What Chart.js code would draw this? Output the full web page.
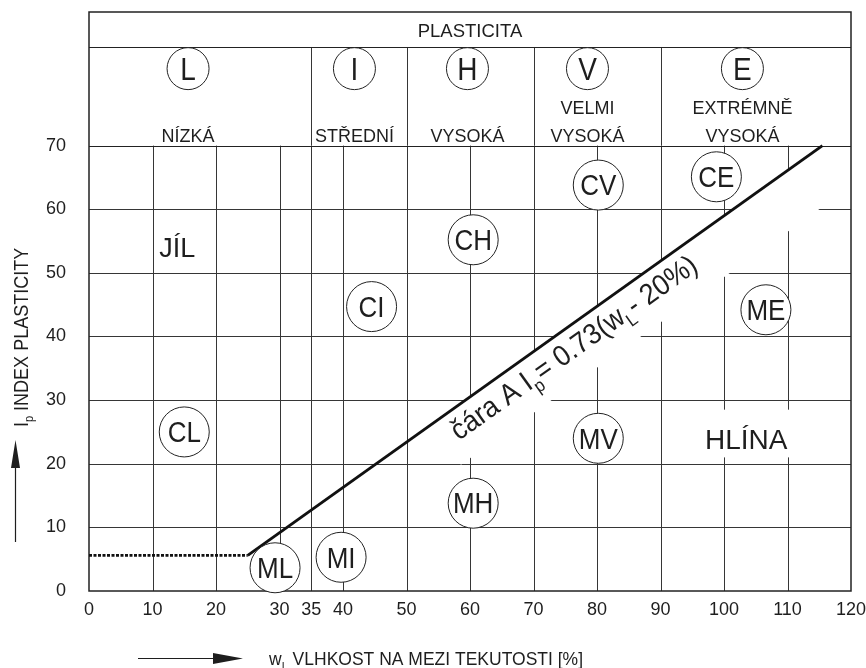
<!DOCTYPE html>
<html>
<head>
<meta charset="utf-8">
<script src="https://cdn.jsdelivr.net/npm/chart.js@4/dist/chart.umd.min.js"></script>
<style>html,body{margin:0;padding:0;background:#fff}canvas{display:block}</style>
</head>
<body>
<canvas id="c" width="866" height="668"></canvas>
<script>
// ---- data ----
const xTicks = [0, 10, 20, 30, 35, 40, 50, 60, 70, 80, 90, 100, 110, 120];
const yTicks = [0, 10, 20, 30, 40, 50, 60, 70];
const gridX = [10, 20, 30, 35, 40, 50, 60, 70, 80, 90, 100, 110];
const gridY = [10, 20, 30, 40, 50, 60];
const zoneBounds = [35, 50, 70, 90];
const yMax = 91;
const headerLineY = 85.5;

const aLineX = [25, 115.5];
const aLineY = [5.6, 70];
const limitX = [0, 25];
const limitY = [5.6, 5.6];

const soilCodes = ['CL', 'ML', 'MI', 'CI', 'CH', 'MH', 'CV', 'MV', 'CE', 'ME'];
const soilX = [15.0, 29.3, 39.7, 44.5, 60.5, 60.5, 80.2, 80.2, 98.8, 106.6];
const soilY = [25.0, 3.65, 5.3, 44.7, 55.2, 13.8, 63.8, 24.0, 65.1, 44.2];

const zoneLetters = ['L', 'I', 'H', 'V', 'E'];
const zoneLetterX = [15.6, 41.8, 59.6, 78.5, 102.9];
const zoneLetterY = [82.1, 82.1, 82.1, 82.1, 82.1];
const zoneNames = [['NÍZKÁ'], ['STŘEDNÍ'], ['VYSOKÁ'], ['VELMI', 'VYSOKÁ'], ['EXTRÉMNĚ', 'VYSOKÁ']];

const headerTitle = 'PLASTICITA';
const clayLabel = 'JÍL';
const siltLabel = 'HLÍNA';
const xTitle = [['w', 0], ['L', 1], [' VLHKOST NA MEZI TEKUTOSTI [%]', 0]];
const yTitle = [['I', 0], ['p', 1], [' INDEX PLASTICITY', 0]];
const aLineLabel = [['čára A I', 0], ['p', 1], ['= 0.73(w', 0], ['L', 1], ['- 20%)', 0]];

// ---- drawing ----
const FONT = '"Liberation Sans", Arial, Helvetica, sans-serif';
const INK = '#1e1e1e';
const pts = (xs, ys) => xs.map((x, i) => ({x: x, y: ys[i]}));

function stretchText(ctx, text, x, y, size, stretch) {
  ctx.save();
  ctx.font = size + 'px ' + FONT;
  ctx.translate(x, y);
  ctx.scale(1, stretch);
  ctx.fillText(text, 0, 0);
  ctx.restore();
}
function richWidth(ctx, segs, size) {
  let w = 0;
  segs.forEach(([t, sub]) => { ctx.font = (sub ? Math.round(size * 0.62) : size) + 'px ' + FONT; w += ctx.measureText(t).width; });
  return w;
}
function drawRich(ctx, segs, size, x0, yBase, stretch) {
  ctx.save();
  ctx.translate(x0, yBase);
  ctx.scale(1, stretch || 1);
  let x = 0;
  ctx.textAlign = 'left';
  ctx.textBaseline = 'alphabetic';
  segs.forEach(([t, sub]) => {
    ctx.font = (sub ? Math.round(size * 0.62) : size) + 'px ' + FONT;
    ctx.fillText(t, x, sub ? size * 0.26 : 0);
    x += ctx.measureText(t).width;
  });
  ctx.restore();
}

const plastPlugin = {
  id: 'plast',
  beforeDatasetsDraw(chart) {
    const ctx = chart.ctx, sx = chart.scales.x, sy = chart.scales.y;
    const X = v => sx.getPixelForValue(v), Y = v => sy.getPixelForValue(v);
    const snap = p => Math.round(p) + 0.5;
    ctx.save();
    // grid in plot
    ctx.strokeStyle = '#363636';
    ctx.lineWidth = 1;
    ctx.beginPath();
    gridX.forEach(v => { const px = snap(X(v)); ctx.moveTo(px, Y(0)); ctx.lineTo(px, Y(70)); });
    gridY.forEach(v => { const py = snap(Y(v)); ctx.moveTo(X(sx.min), py); ctx.lineTo(X(sx.max), py); });
    zoneBounds.forEach(v => { const px = snap(X(v)); ctx.moveTo(px, Y(70)); ctx.lineTo(px, Y(headerLineY)); });
    ctx.stroke();
    // header rules
    ctx.strokeStyle = '#222';
    ctx.lineWidth = 1.2;
    ctx.beginPath();
    [70, headerLineY].forEach(v => { const py = snap(Y(v)); ctx.moveTo(X(sx.min), py); ctx.lineTo(X(sx.max), py); });
    ctx.stroke();
    // frame
    ctx.lineWidth = 1.5;
    ctx.strokeRect(X(sx.min), Y(yMax), X(sx.max) - X(sx.min), Y(0) - Y(yMax));

    // white band under the A-line
    const a1 = {x: X(aLineX[0]), y: Y(aLineY[0])}, a2 = {x: X(aLineX[1]), y: Y(aLineY[1])};
    const len = Math.hypot(a2.x - a1.x, a2.y - a1.y);
    const d = {x: (a2.x - a1.x) / len, y: (a2.y - a1.y) / len};
    const n = {x: -d.y, y: d.x};
    const lineAt = wx => aLineY[0] + (aLineY[1] - aLineY[0]) * (wx - aLineX[0]) / (aLineX[1] - aLineX[0]);
    const bs = {x: X(54), y: Y(lineAt(54))}, be = {x: X(115), y: Y(lineAt(115))};
    const bw = 50;
    ctx.fillStyle = '#fff';
    ctx.beginPath();
    ctx.moveTo(bs.x, bs.y);
    ctx.lineTo(be.x, be.y);
    ctx.lineTo(be.x + n.x * bw, be.y + n.y * bw);
    ctx.lineTo(bs.x + n.x * bw, bs.y + n.y * bw);
    ctx.closePath();
    ctx.fill();
    // white box behind HLÍNA
    ctx.fillRect(X(95), Y(28.5), X(112) - X(95), Y(21) - Y(28.5));

    // texts
    ctx.fillStyle = INK;
    ctx.textAlign = 'center';
    ctx.textBaseline = 'alphabetic';
    stretchText(ctx, headerTitle, X((sx.min + sx.max) / 2), Y(87.1), 18.5, 1.0);
    zoneNames.forEach((lines, i) => {
      const cx = X(zoneLetterX[i]);
      if (lines.length === 1) {
        stretchText(ctx, lines[0], cx, Y(70.6), 18, 1.05);
      } else {
        stretchText(ctx, lines[0], cx, Y(74.9), 18, 1.05);
        stretchText(ctx, lines[1], cx, Y(70.5), 18, 1.05);
      }
    });
    stretchText(ctx, clayLabel, X(13.9), Y(52.5), 27, 1.05);
    stretchText(ctx, siltLabel, X(103.5), Y(22.3), 28, 1.0);

    // A-line label
    const size = 27;
    const lc = {x: X(74.5) + n.x * 19, y: Y(lineAt(74.5)) + n.y * 19};
    ctx.translate(lc.x, lc.y);
    ctx.rotate(Math.atan2(d.y, d.x));
    const w = richWidth(ctx, aLineLabel, size);
    drawRich(ctx, aLineLabel, size, -w / 2, size * 0.36 * 1.08, 1.08);
    ctx.restore();
  },
  afterDatasetsDraw(chart) {
    const ctx = chart.ctx;
    ctx.save();
    ctx.fillStyle = INK;
    ctx.textAlign = 'center';
    ctx.textBaseline = 'alphabetic';
    const s = 1.1;
    const m1 = chart.getDatasetMeta(2);
    m1.data.forEach((el, i) => stretchText(ctx, soilCodes[i], el.x, el.y + 26 * 0.358 * s, 26, s));
    const m2 = chart.getDatasetMeta(3);
    m2.data.forEach((el, i) => stretchText(ctx, zoneLetters[i], el.x, el.y + 28 * 0.358 * s, 28, s));
    ctx.restore();
  },
  afterDraw(chart) {
    const ctx = chart.ctx;
    ctx.save();
    ctx.fillStyle = INK;
    ctx.strokeStyle = INK;
    // arrows
    ctx.lineWidth = 1.2;
    ctx.beginPath();
    ctx.moveTo(138, 658.5); ctx.lineTo(216, 658.5);
    ctx.moveTo(15.5, 542); ctx.lineTo(15.5, 466);
    ctx.stroke();
    ctx.beginPath();
    ctx.moveTo(243, 658.5); ctx.lineTo(213, 653); ctx.lineTo(213, 664); ctx.closePath();
    ctx.moveTo(15.5, 440); ctx.lineTo(11, 468); ctx.lineTo(20, 468); ctx.closePath();
    ctx.fill();
    // x title
    drawRich(ctx, xTitle, 17.5, 269, 665, 1.05);
    // y title
    ctx.translate(27.5, 427);
    ctx.rotate(-Math.PI / 2);
    drawRich(ctx, yTitle, 18, 0, 0, 1.1);
    ctx.restore();
  }
};

new Chart(document.getElementById('c'), {
  type: 'scatter',
  data: {
    datasets: [
      {label: 'A-line', type: 'line', data: pts(aLineX, aLineY), borderColor: '#111', borderWidth: 3,
       pointRadius: 0, fill: false, tension: 0, order: 3},
      {label: 'limit', type: 'line', data: pts(limitX, limitY), borderColor: '#111', borderWidth: 2.6,
       borderDash: [3, 1.5], pointRadius: 0, fill: false, tension: 0, order: 4},
      {label: 'soils', data: pts(soilX, soilY), pointRadius: 25, pointHoverRadius: 25,
       backgroundColor: '#fff', borderColor: '#222', borderWidth: 1, clip: false, order: 1},
      {label: 'zones', data: pts(zoneLetterX, zoneLetterY), pointRadius: 21, pointHoverRadius: 21,
       backgroundColor: '#fff', borderColor: '#222', borderWidth: 1, clip: false, order: 2}
    ]
  },
  options: {
    responsive: false,
    animation: false,
    devicePixelRatio: 1,
    events: [],
    layout: {autoPadding: false, padding: {left: 0, right: 15, top: 12, bottom: 0}},
    plugins: {legend: {display: false}, tooltip: {enabled: false}, title: {display: false}},
    scales: {
      x: {
        type: 'linear', min: 0, max: 120,
        afterBuildTicks: s => { s.ticks = xTicks.map(v => ({value: v})); },
        afterFit: s => { s.height = 77; s.paddingLeft = 0; s.paddingRight = 0; },
        grid: {display: false, drawTicks: false},
        border: {display: false},
        ticks: {autoSkip: false, maxRotation: 0, padding: 8, color: INK, font: {family: FONT, size: 18}}
      },
      y: {
        type: 'linear', min: 0, max: yMax,
        afterBuildTicks: s => { s.ticks = yTicks.map(v => ({value: v})); },
        afterFit: s => { s.width = 89; s.paddingTop = 0; s.paddingBottom = 0; },
        grid: {display: false, drawTicks: false},
        border: {display: false},
        ticks: {autoSkip: false, padding: 23, color: INK, font: {family: FONT, size: 18}}
      }
    }
  },
  plugins: [plastPlugin]
});
</script>
</body>
</html>
